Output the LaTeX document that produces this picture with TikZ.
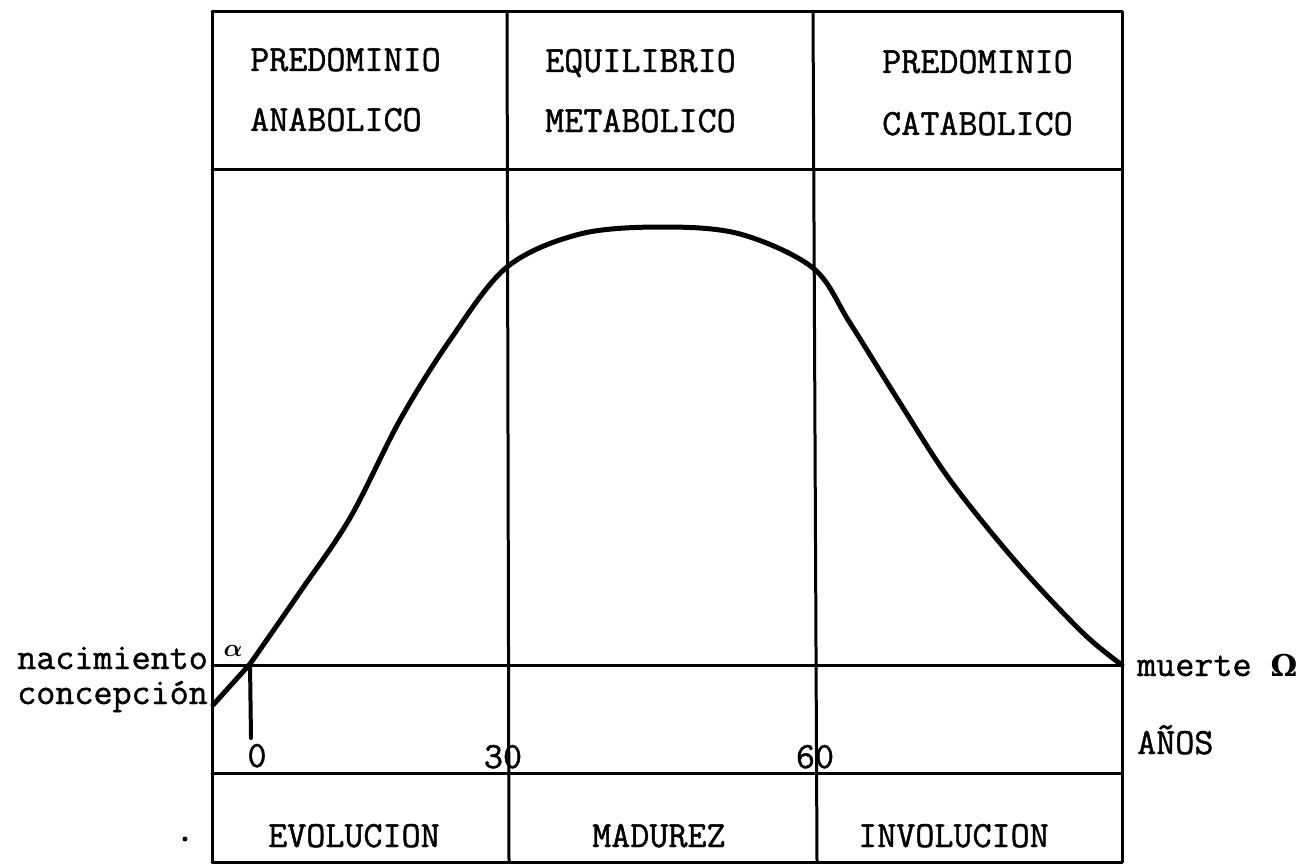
\documentclass[tikz,border=0pt]{standalone}
\usepackage{amsmath}
\usepackage{bm}
\usepackage{fontspec}
\newfontfamily\tw{Latin Modern Mono}[FakeBold=1.2]
\newfontfamily\grk{DejaVu Serif}
\begin{document}
\begin{tikzpicture}[x=1pt,y=-1pt,
  frame/.style={line width=3pt,line cap=round},
  curveline/.style={line width=5pt,line cap=round,line join=round},
  lbl/.style={inner sep=0pt,font=\tw\fontsize{37}{40}\selectfont},
  side/.style={lbl,text height=22pt,text depth=6pt},
  small/.style={inner sep=0pt,font=\fontsize{26}{28}\selectfont}]
\useasboundingbox (0,0) rectangle (1316,864);
% frame coordinates
\coordinate (TL) at (212,12);  \coordinate (TR) at (1122,12);
\coordinate (H1L) at (212,169); \coordinate (H1R) at (1122,169);
\coordinate (AL) at (212,665); \coordinate (AR) at (1122,665);
\coordinate (H2L) at (212,773); \coordinate (H2R) at (1122,773);
\coordinate (BL) at (212,862); \coordinate (BR) at (1122,862);
\coordinate (C1T) at (507,12); \coordinate (C1B) at (509,862);
\coordinate (C2T) at (813,12); \coordinate (C2B) at (817,862);
% grid
\draw[frame] (TL) -- (TR);
\draw[frame] (H1L) -- (H1R);
\draw[frame] (AL) -- (AR);
\draw[frame] (H2L) -- (H2R);
\draw[frame] (BL) -- (BR);
\draw[frame] (TL) -- (BL);
\draw[frame] (TR) -- (BR);
\draw[frame] (C1T) -- (C1B);
\draw[frame] (C2T) -- (C2B);
% birth tick and conception segment
\coordinate (conc) at (213,705);
\coordinate (nac) at (250,664);
\coordinate (tickb) at (251,738);
\draw[line width=4pt,line cap=round] (nac) -- (tickb);
\draw[curveline] (conc) -- (nac);
% life curve
\draw[curveline] plot[smooth,tension=0.55] coordinates {
 (250,664) (300,592) (350,518) (400,420) (450,340) (507,267)
 (580,234) (663,227) (740,234) (813,268) (850,323) (900,403)
 (950,480) (1017,563) (1083,633) (1122,665)};
% top labels
\node[lbl,anchor=base west] (pa1) at (250,71) {PREDOMINIO};
\node[lbl,anchor=base west] (pa2) at (250,131) {ANABOLICO};
\node[lbl,anchor=base west] (em1) at (545,72) {EQUILIBRIO};
\node[lbl,anchor=base west] (em2) at (545,132) {METABOLICO};
\node[lbl,anchor=base west] (pc1) at (882,73) {PREDOMINIO};
\node[lbl,anchor=base west] (pc2) at (882,135) {CATABOLICO};
% bottom labels
\node[lbl,anchor=base west] (ev) at (268,847) {EVOLUCION};
\node[lbl,anchor=base west] (ma) at (592,847) {MADUREZ};
\node[lbl,anchor=base west] (in) at (858,847) {INVOLUCION};
% side labels
\node[side,anchor=base east] (nacl) at (208,669) {nacimiento};
\node[side,anchor=base east] (concl) at (208,704) {concepción};
\node[small,anchor=base] (alpha) at (233,656) {$\bm{\alpha}$};
\node[lbl,anchor=base west] (muerte) at (1137,676) {muerte {\grk\bfseries\fontsize{30}{32}\selectfont Ω}};
\node[lbl,anchor=base west] (anos) at (1137,754) {AÑOS};
% age numbers
\node[lbl,anchor=base] (n0) at (257,767) {0};
\node[lbl,anchor=base] (n30) at (503,768) {30};
\node[lbl,anchor=base] (n60) at (815,768) {60};
% stray typed dot
\fill (185,839) circle (2.5);
\end{tikzpicture}
\end{document}
